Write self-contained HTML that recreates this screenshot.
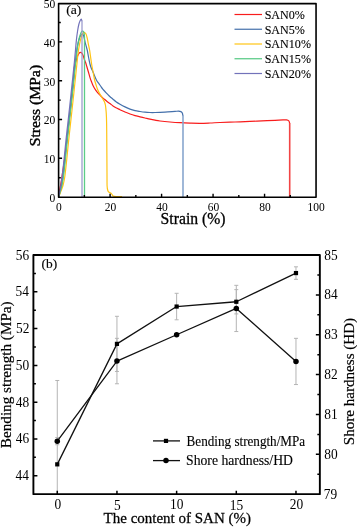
<!DOCTYPE html><html><head><meta charset="utf-8"><style>html,body{margin:0;padding:0;background:#fff;width:357px;height:527px;overflow:hidden}svg{display:block;will-change:transform}text{font-family:"Liberation Serif",serif;fill:#000;stroke:#000;stroke-width:0.12px}</style></head><body>
<svg width="357" height="527" viewBox="0 0 357 527">
<path d="M58.60,197.10 C58.67,196.58 58.83,195.18 59.00,194.00 C59.17,192.82 59.33,191.50 59.60,190.00 C59.87,188.50 60.22,187.17 60.60,185.00 C60.98,182.83 61.45,179.83 61.90,177.00 C62.35,174.17 62.83,171.17 63.30,168.00 C63.77,164.83 64.10,162.67 64.70,158.00 C65.30,153.33 66.15,146.33 66.90,140.00 C67.65,133.67 68.43,126.67 69.20,120.00 C69.97,113.33 70.77,106.67 71.50,100.00 C72.23,93.33 73.15,85.33 73.60,80.00 C74.05,74.67 73.80,71.17 74.20,68.00 C74.60,64.83 75.43,63.00 76.00,61.00 C76.57,59.00 77.10,57.28 77.60,56.00 C78.10,54.72 78.52,53.90 79.00,53.30 C79.48,52.70 80.00,52.38 80.50,52.40 C81.00,52.42 81.55,52.83 82.00,53.40 C82.45,53.97 82.80,54.78 83.20,55.80 C83.60,56.82 84.00,58.38 84.40,59.50 C84.80,60.62 85.20,61.33 85.60,62.50 C86.00,63.67 86.33,64.92 86.80,66.50 C87.27,68.08 87.87,70.15 88.40,72.00 C88.93,73.85 89.47,75.93 90.00,77.60 C90.53,79.27 91.10,80.70 91.60,82.00 C92.10,83.30 92.32,84.03 93.00,85.40 C93.68,86.77 94.90,88.97 95.70,90.20 C96.50,91.43 97.08,91.98 97.80,92.80 C98.52,93.62 99.22,94.30 100.00,95.10 C100.78,95.90 101.75,96.90 102.50,97.60 C103.25,98.30 103.75,98.65 104.50,99.30 C105.25,99.95 106.08,100.78 107.00,101.50 C107.92,102.22 109.00,102.87 110.00,103.60 C111.00,104.33 112.00,105.20 113.00,105.90 C114.00,106.60 114.83,107.17 116.00,107.80 C117.17,108.43 118.50,109.00 120.00,109.70 C121.50,110.40 123.33,111.28 125.00,112.00 C126.67,112.72 128.33,113.40 130.00,114.00 C131.67,114.60 133.33,115.13 135.00,115.60 C136.67,116.07 138.33,116.40 140.00,116.80 C141.67,117.20 143.33,117.60 145.00,118.00 C146.67,118.40 148.33,118.83 150.00,119.20 C151.67,119.57 153.33,119.90 155.00,120.20 C156.67,120.50 157.50,120.70 160.00,121.00 C162.50,121.30 166.67,121.72 170.00,122.00 C173.33,122.28 176.67,122.52 180.00,122.70 C183.33,122.88 186.67,123.00 190.00,123.10 C193.33,123.20 196.67,123.32 200.00,123.30 C203.33,123.28 206.67,123.13 210.00,123.00 C213.33,122.87 215.83,122.67 220.00,122.50 C224.17,122.33 230.00,122.18 235.00,122.00 C240.00,121.82 245.50,121.58 250.00,121.40 C254.50,121.22 257.83,121.08 262.00,120.90 C266.17,120.72 271.50,120.47 275.00,120.30 C278.50,120.13 281.08,119.97 283.00,119.90 C284.92,119.83 285.53,119.75 286.50,119.90 C287.47,120.05 288.28,120.28 288.80,120.80 C289.32,121.32 289.47,122.63 289.60,123.00 " fill="none" stroke="#f81c1c" stroke-width="1.2" stroke-linejoin="round" stroke-linecap="round"/>
<line x1="289.7" y1="123" x2="289.7" y2="197.1" stroke="#f24444" stroke-width="1.6"/>
<path d="M58.60,197.10 C58.75,196.58 59.16,195.18 59.49,194.00 C59.81,192.82 60.17,191.42 60.53,190.00 C60.88,188.58 61.22,187.50 61.60,185.50 C61.97,183.50 62.43,180.58 62.80,178.00 C63.17,175.42 63.45,173.00 63.80,170.00 C64.15,167.00 64.38,165.00 64.90,160.00 C65.42,155.00 66.20,146.67 66.90,140.00 C67.60,133.33 68.37,126.67 69.10,120.00 C69.83,113.33 70.58,106.67 71.30,100.00 C72.02,93.33 72.73,86.33 73.40,80.00 C74.07,73.67 74.78,66.67 75.30,62.00 C75.82,57.33 76.07,55.00 76.50,52.00 C76.93,49.00 77.42,46.25 77.90,44.00 C78.38,41.75 78.90,39.97 79.40,38.50 C79.90,37.03 80.40,35.92 80.90,35.20 C81.40,34.48 81.97,34.17 82.40,34.20 C82.83,34.23 83.03,34.00 83.50,35.40 C83.97,36.80 84.58,40.17 85.20,42.60 C85.82,45.03 86.62,47.43 87.20,50.00 C87.78,52.57 88.15,55.33 88.70,58.00 C89.25,60.67 89.75,63.58 90.50,66.00 C91.25,68.42 92.22,70.17 93.20,72.50 C94.18,74.83 95.50,78.22 96.40,80.00 C97.30,81.78 97.90,82.20 98.60,83.20 C99.30,84.20 99.87,84.97 100.60,86.00 C101.33,87.03 102.10,88.30 103.00,89.40 C103.90,90.50 105.00,91.53 106.00,92.60 C107.00,93.67 108.07,94.90 109.00,95.80 C109.93,96.70 110.93,97.43 111.60,98.00 C112.27,98.57 112.27,98.58 113.00,99.20 C113.73,99.82 114.83,100.87 116.00,101.70 C117.17,102.53 118.50,103.33 120.00,104.20 C121.50,105.07 123.33,106.08 125.00,106.90 C126.67,107.72 128.33,108.48 130.00,109.10 C131.67,109.72 133.33,110.20 135.00,110.60 C136.67,111.00 138.33,111.23 140.00,111.50 C141.67,111.77 143.33,112.03 145.00,112.20 C146.67,112.37 148.33,112.45 150.00,112.50 C151.67,112.55 152.50,112.57 155.00,112.50 C157.50,112.43 161.67,112.28 165.00,112.10 C168.33,111.92 172.75,111.55 175.00,111.40 C177.25,111.25 177.52,111.17 178.50,111.20 C179.48,111.23 180.27,111.32 180.90,111.60 C181.53,111.88 181.97,112.23 182.30,112.90 C182.63,113.57 182.80,115.15 182.90,115.60 " fill="none" stroke="#4470ab" stroke-width="1.2" stroke-linejoin="round" stroke-linecap="round"/>
<line x1="183.0" y1="115.6" x2="183.0" y2="197.1" stroke="#88a6ce" stroke-width="1.6"/>
<path d="M58.60,197.10 C58.81,196.58 59.39,195.18 59.86,194.00 C60.32,192.82 60.86,191.42 61.38,190.00 C61.90,188.58 62.45,187.50 62.99,185.50 C63.52,183.50 64.16,180.58 64.60,178.00 C65.04,175.42 65.25,173.00 65.60,170.00 C65.95,167.00 66.18,165.00 66.70,160.00 C67.22,155.00 68.00,146.67 68.70,140.00 C69.40,133.33 70.17,126.67 70.90,120.00 C71.63,113.33 72.38,106.67 73.10,100.00 C73.82,93.33 74.53,86.33 75.20,80.00 C75.87,73.67 76.57,66.83 77.10,62.00 C77.63,57.17 77.98,54.00 78.40,51.00 C78.82,48.00 79.20,46.07 79.60,44.00 C80.00,41.93 80.40,40.10 80.80,38.60 C81.20,37.10 81.58,35.93 82.00,35.00 C82.42,34.07 82.87,33.42 83.30,33.00 C83.73,32.58 84.15,32.33 84.60,32.50 C85.05,32.67 85.55,33.00 86.00,34.00 C86.45,35.00 86.93,36.95 87.30,38.50 C87.67,40.05 87.82,41.38 88.20,43.30 C88.58,45.22 89.20,47.72 89.60,50.00 C90.00,52.28 90.27,54.67 90.60,57.00 C90.93,59.33 91.22,61.67 91.60,64.00 C91.98,66.33 92.40,68.33 92.90,71.00 C93.40,73.67 94.07,77.67 94.60,80.00 C95.13,82.33 95.60,83.42 96.10,85.00 C96.60,86.58 97.02,88.07 97.60,89.50 C98.18,90.93 98.75,92.05 99.60,93.60 C100.45,95.15 101.87,97.37 102.70,98.80 C103.53,100.23 104.13,101.08 104.60,102.20 C105.07,103.32 105.27,104.18 105.50,105.50 C105.73,106.82 105.85,108.35 106.00,110.10 C106.15,111.85 106.28,112.68 106.40,116.00 C106.52,119.32 106.60,120.17 106.70,130.00 C106.80,139.83 106.93,165.67 107.00,175.00 C107.07,184.33 106.97,183.42 107.10,186.00 C107.23,188.58 107.48,189.45 107.80,190.50 C108.12,191.55 108.43,191.82 109.00,192.30 C109.57,192.78 110.67,192.98 111.20,193.40 C111.73,193.82 111.85,194.35 112.20,194.80 C112.55,195.25 112.67,195.82 113.30,196.10 C113.93,196.38 114.62,196.42 116.00,196.50 C117.38,196.58 120.67,196.58 121.60,196.60 " fill="none" stroke="#ffc414" stroke-width="1.2" stroke-linejoin="round" stroke-linecap="round"/>
<path d="M58.60,197.10 C58.76,196.58 59.22,195.18 59.57,194.00 C59.92,192.82 60.33,191.42 60.72,190.00 C61.10,188.58 61.49,187.50 61.91,185.50 C62.32,183.50 62.82,180.58 63.20,178.00 C63.58,175.42 63.85,173.00 64.20,170.00 C64.55,167.00 64.78,165.00 65.30,160.00 C65.82,155.00 66.60,146.67 67.30,140.00 C68.00,133.33 68.77,126.67 69.50,120.00 C70.23,113.33 70.98,106.67 71.70,100.00 C72.42,93.33 73.13,86.33 73.80,80.00 C74.47,73.67 75.15,67.00 75.70,62.00 C76.25,57.00 76.70,53.17 77.10,50.00 C77.50,46.83 77.73,45.07 78.10,43.00 C78.47,40.93 78.88,39.17 79.30,37.60 C79.72,36.03 80.22,34.60 80.60,33.60 C80.98,32.60 81.27,32.03 81.60,31.60 C81.93,31.17 82.27,30.97 82.60,31.00 C82.93,31.03 83.32,31.30 83.60,31.80 C83.88,32.30 84.15,33.13 84.30,34.00 C84.45,34.87 84.47,36.50 84.50,37.00 " fill="none" stroke="#52c880" stroke-width="1.2" stroke-linejoin="round" stroke-linecap="round"/>
<line x1="84.5" y1="37" x2="84.5" y2="197.1" stroke="#5ccc88" stroke-width="1.3"/>
<path d="M58.60,197.10 C58.72,196.58 59.05,195.18 59.30,194.00 C59.55,192.82 59.83,191.42 60.10,190.00 C60.37,188.58 60.60,187.50 60.90,185.50 C61.20,183.50 61.57,180.58 61.90,178.00 C62.23,175.42 62.55,173.00 62.90,170.00 C63.25,167.00 63.48,165.00 64.00,160.00 C64.52,155.00 65.30,146.67 66.00,140.00 C66.70,133.33 67.47,126.67 68.20,120.00 C68.93,113.33 69.68,106.67 70.40,100.00 C71.12,93.33 71.83,86.33 72.50,80.00 C73.17,73.67 73.90,67.00 74.40,62.00 C74.90,57.00 75.17,53.67 75.50,50.00 C75.83,46.33 76.07,43.08 76.40,40.00 C76.73,36.92 77.10,34.08 77.50,31.50 C77.90,28.92 78.35,26.35 78.80,24.50 C79.25,22.65 79.78,21.30 80.20,20.40 C80.62,19.50 81.03,19.07 81.30,19.10 C81.57,19.13 81.72,20.35 81.80,20.60 " fill="none" stroke="#7272ba" stroke-width="1.2" stroke-linejoin="round" stroke-linecap="round"/>
<line x1="82.0" y1="20.6" x2="82.0" y2="197.1" stroke="#9494ca" stroke-width="1.2"/>
<path d="M58.6,3.6 H316.05 V197.2 H58.6 Z" fill="none" stroke="#000" stroke-width="1.6" stroke-linejoin="round"/>
<path d="M58.6,177.70h2.2 M58.6,158.30h3.5 M58.6,138.90h2.2 M58.6,119.50h3.5 M58.6,100.10h2.2 M58.6,80.70h3.5 M58.6,61.30h2.2 M58.6,41.90h3.5 M58.6,22.50h2.2 M84.34,197.2v-2.2 M110.09,197.2v-3.5 M135.84,197.2v-2.2 M161.58,197.2v-3.5 M187.32,197.2v-2.2 M213.07,197.2v-3.5 M238.81,197.2v-2.2 M264.56,197.2v-3.5 M290.31,197.2v-2.2" stroke="#000" stroke-width="1.4" fill="none"/>
<text transform="translate(49.51,201.90) scale(1.0000,1.0500)" font-size="11.5" style="stroke-width:0px">0</text>
<text transform="translate(43.76,163.16) scale(1.0000,1.0500)" font-size="11.5" style="stroke-width:0px">10</text>
<text transform="translate(43.76,124.30) scale(1.0000,1.0500)" font-size="11.5" style="stroke-width:0px">20</text>
<text transform="translate(43.76,85.50) scale(1.0000,1.0500)" font-size="11.5" style="stroke-width:0px">30</text>
<text transform="translate(43.76,46.70) scale(1.0000,1.0500)" font-size="11.5" style="stroke-width:0px">40</text>
<text transform="translate(43.76,7.90) scale(1.0000,1.0500)" font-size="11.5" style="stroke-width:0px">50</text>
<text transform="translate(56.12,210.56) scale(1.0000,1.0500)" font-size="11.5" style="stroke-width:0px">0</text>
<text transform="translate(104.74,210.56) scale(1.0000,1.0500)" font-size="11.5" style="stroke-width:0px">20</text>
<text transform="translate(156.35,210.56) scale(1.0000,1.0500)" font-size="11.5" style="stroke-width:0px">40</text>
<text transform="translate(207.72,210.56) scale(1.0000,1.0500)" font-size="11.5" style="stroke-width:0px">60</text>
<text transform="translate(259.21,210.56) scale(1.0000,1.0500)" font-size="11.5" style="stroke-width:0px">80</text>
<text transform="translate(307.54,210.56) scale(1.0000,1.0500)" font-size="11.5" style="stroke-width:0px">100</text>
<text transform="translate(160.60,223.67) scale(1.0014,1.0400)" font-size="15.7" style="stroke-width:0.3px">Strain (%)</text>
<text transform="translate(40.30,146.30) rotate(-90) scale(1.0472,1.0000)" font-size="15.0" style="stroke-width:0.4px">Stress (MPa)</text>
<text transform="translate(66.15,14.46) scale(1.0216,0.9800)" font-size="13.4" style="stroke-width:0.15px">(a)</text>
<line x1="234.5" y1="14.50" x2="262" y2="14.50" stroke="#f81c1c" stroke-width="1.2"/>
<text transform="translate(264.65,18.75) scale(1.0000,1.0800)" font-size="12.1">SAN0%</text>
<line x1="234.5" y1="29.25" x2="262" y2="29.25" stroke="#4470ab" stroke-width="1.2"/>
<text transform="translate(264.65,33.60) scale(1.0000,1.0800)" font-size="12.1">SAN5%</text>
<line x1="234.5" y1="44.00" x2="262" y2="44.00" stroke="#ffc414" stroke-width="1.2"/>
<text transform="translate(264.65,48.45) scale(1.0000,1.0800)" font-size="12.1">SAN10%</text>
<line x1="234.5" y1="58.75" x2="262" y2="58.75" stroke="#52c880" stroke-width="1.2"/>
<text transform="translate(264.65,63.30) scale(1.0000,1.0800)" font-size="12.1">SAN15%</text>
<line x1="234.5" y1="73.50" x2="262" y2="73.50" stroke="#7272ba" stroke-width="1.2"/>
<text transform="translate(264.65,78.15) scale(1.0000,1.0800)" font-size="12.1">SAN20%</text>
<path d="M57.27,380.49V494.15M55.27,380.49h4M57.27,437.56V444.74M55.27,437.56h4M55.27,444.74h4M116.95,316.30V371.47M114.95,316.30h4M114.95,371.47h4M116.95,338.34V383.77M114.95,338.34h4M114.95,383.77h4M176.63,293.31V319.79M174.63,293.31h4M174.63,319.79h4M236.30,289.63V313.91M234.30,289.63h4M234.30,313.91h4M236.30,285.34V331.56M234.30,285.34h4M234.30,331.56h4M295.98,266.82V279.33M293.98,266.82h4M293.98,279.33h4M295.98,338.34V384.56M293.98,338.34h4M293.98,384.56h4" stroke="#b4b4b4" stroke-width="1" fill="none"/>
<polyline points="57.27,464.35 116.95,343.88 176.63,306.55 236.30,301.77 295.98,273.07" fill="none" stroke="#111" stroke-width="1.3" stroke-linejoin="round" stroke-linecap="round"/>
<polyline points="57.27,441.15 116.95,361.05 176.63,334.75 236.30,308.45 295.98,361.45" fill="none" stroke="#111" stroke-width="1.3" stroke-linejoin="round" stroke-linecap="round"/>
<rect x="55.17" y="462.25" width="4.2" height="4.2" fill="#000"/>
<circle cx="57.27" cy="441.15" r="2.75" fill="#000"/>
<rect x="114.85" y="341.78" width="4.2" height="4.2" fill="#000"/>
<circle cx="116.95" cy="361.05" r="2.75" fill="#000"/>
<rect x="174.53" y="304.45" width="4.2" height="4.2" fill="#000"/>
<circle cx="176.63" cy="334.75" r="2.75" fill="#000"/>
<rect x="234.20" y="299.67" width="4.2" height="4.2" fill="#000"/>
<circle cx="236.30" cy="308.45" r="2.75" fill="#000"/>
<rect x="293.88" y="270.97" width="4.2" height="4.2" fill="#000"/>
<circle cx="295.98" cy="361.45" r="2.75" fill="#000"/>
<path d="M33.4,255.05 H319.85 V494.15 H33.4 Z" fill="none" stroke="#000" stroke-width="1.9" stroke-linejoin="round"/>
<path d="M33.4,475.76h4 M33.4,457.37h2.5 M33.4,438.97h4 M33.4,420.58h2.5 M33.4,402.19h4 M33.4,383.80h2.5 M33.4,365.40h4 M33.4,347.01h2.5 M33.4,328.62h4 M33.4,310.23h2.5 M33.4,291.83h4 M33.4,273.44h2.5 M319.85,474.22h-2.5 M319.85,454.30h-4 M319.85,434.38h-2.5 M319.85,414.45h-4 M319.85,394.52h-2.5 M319.85,374.60h-4 M319.85,354.67h-2.5 M319.85,334.75h-4 M319.85,314.83h-2.5 M319.85,294.90h-4 M319.85,274.98h-2.5 M57.27,494.15v-3.5 M116.95,494.15v-3.5 M176.63,494.15v-3.5 M236.30,494.15v-3.5 M295.98,494.15v-3.5" stroke="#000" stroke-width="1.5" fill="none"/>
<text transform="translate(15.57,480.42) scale(1.0000,1.0700)" font-size="13.4" style="stroke-width:0px">44</text>
<text transform="translate(15.70,443.49) scale(1.0000,1.0700)" font-size="13.4" style="stroke-width:0px">46</text>
<text transform="translate(15.84,406.70) scale(1.0000,1.0700)" font-size="13.4" style="stroke-width:0px">48</text>
<text transform="translate(15.84,369.92) scale(1.0000,1.0700)" font-size="13.4" style="stroke-width:0px">50</text>
<text transform="translate(16.10,333.21) scale(1.0000,1.0700)" font-size="13.4" style="stroke-width:0px">52</text>
<text transform="translate(15.57,296.42) scale(1.0000,1.0700)" font-size="13.4" style="stroke-width:0px">54</text>
<text transform="translate(15.70,259.57) scale(1.0000,1.0700)" font-size="13.4" style="stroke-width:0px">56</text>
<text transform="translate(323.86,498.74) scale(1.0000,1.0700)" font-size="13.4" style="stroke-width:0px">79</text>
<text transform="translate(324.26,458.82) scale(1.0000,1.0700)" font-size="13.4" style="stroke-width:0px">80</text>
<text transform="translate(324.26,419.04) scale(1.0000,1.0700)" font-size="13.4" style="stroke-width:0px">81</text>
<text transform="translate(324.26,379.12) scale(1.0000,1.0700)" font-size="13.4" style="stroke-width:0px">82</text>
<text transform="translate(324.26,339.27) scale(1.0000,1.0700)" font-size="13.4" style="stroke-width:0px">83</text>
<text transform="translate(324.26,299.42) scale(1.0000,1.0700)" font-size="13.4" style="stroke-width:0px">84</text>
<text transform="translate(324.26,259.57) scale(1.0000,1.0700)" font-size="13.4" style="stroke-width:0px">85</text>
<text transform="translate(54.42,509.41) scale(1.0000,1.0700)" font-size="13.4" style="stroke-width:0px">0</text>
<text transform="translate(113.96,509.56) scale(1.0000,1.0700)" font-size="13.4" style="stroke-width:0px">5</text>
<text transform="translate(170.09,509.41) scale(1.0000,1.0700)" font-size="13.4" style="stroke-width:0px">10</text>
<text transform="translate(229.77,509.56) scale(1.0000,1.0700)" font-size="13.4" style="stroke-width:0px">15</text>
<text transform="translate(289.78,509.41) scale(1.0000,1.0700)" font-size="13.4" style="stroke-width:0px">20</text>
<text transform="translate(103.60,523.26) scale(0.9997,1.0100)" font-size="15.0" style="stroke-width:0.25px">The content of SAN (%)</text>
<text transform="translate(10.70,448.16) rotate(-90) scale(1.0551,1.0000)" font-size="14.4" style="stroke-width:0.2px">Bending strength (MPa)</text>
<text transform="translate(353.80,445.16) rotate(-90) scale(1.0336,1.0000)" font-size="14.6" style="stroke-width:0.2px">Shore hardness (HD)</text>
<text transform="translate(41.46,267.65) scale(1.0019,1.0000)" font-size="13.4" style="stroke-width:0.15px">(b)</text>
<line x1="153" y1="440.9" x2="180" y2="440.9" stroke="#111" stroke-width="1.3"/>
<rect x="163.9" y="438.8" width="4.2" height="4.2" fill="#000"/>
<line x1="153" y1="460.6" x2="180" y2="460.6" stroke="#111" stroke-width="1.3"/>
<circle cx="166" cy="460.6" r="2.75" fill="#000"/>
<text transform="translate(186.61,445.80) scale(0.9880,1.0200)" font-size="13.3">Bending strength/MPa</text>
<text transform="translate(186.04,465.30) scale(1.0315,1.0200)" font-size="13.3">Shore hardness/HD</text>
</svg></body></html>
